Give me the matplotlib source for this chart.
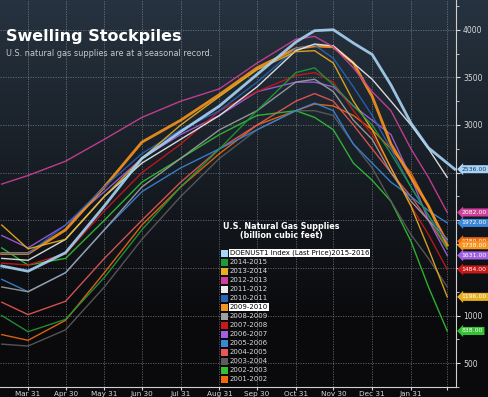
import numpy as np
import matplotlib
matplotlib.use('Agg')
import matplotlib.pyplot as plt
from matplotlib.patches import Rectangle

# days counted from Mar 31 of the season's first year
days = [-21, 0, 30, 61, 91, 122, 153, 183, 214, 229, 244, 260, 275, 290, 306, 320, 335]
days_current = [-21, 0, 30, 61, 91, 122, 153, 183, 214, 229, 244, 260, 275, 290, 306, 320, 341]

seasons = ['2015-2016', '2014-2015', '2013-2014', '2012-2013', '2011-2012', '2010-2011',
           '2009-2010', '2008-2009', '2007-2008', '2006-2007', '2005-2006', '2004-2005',
           '2003-2004', '2002-2003', '2001-2002']

s2015 = [1520, 1465, 1660, 2150, 2650, 2930, 3200, 3530, 3870, 3990, 4000, 3860, 3740, 3420, 3020, 2760, 2536]
s2014 = [1000, 830, 960, 1400, 1900, 2350, 2750, 3150, 3550, 3600, 3420, 3200, 3000, 2700, 2350, 2050, 1700]
s2013 = [1950, 1700, 1800, 2250, 2650, 3000, 3300, 3580, 3770, 3780, 3650, 3250, 2950, 2550, 2150, 1700, 1196]
s2012 = [2380, 2470, 2620, 2850, 3080, 3250, 3380, 3650, 3900, 3930, 3820, 3600, 3350, 3150, 2750, 2450, 2082]
s2011 = [1600, 1580, 1800, 2250, 2600, 2850, 3100, 3400, 3780, 3850, 3830, 3650, 3480, 3250, 3000, 2750, 2450]
s2010 = [1650, 1650, 1950, 2350, 2700, 2950, 3150, 3450, 3800, 3840, 3700, 3400, 3100, 2750, 2350, 2050, 1780]
s2009 = [1650, 1650, 1900, 2350, 2820, 3050, 3320, 3600, 3800, 3830, 3820, 3650, 3300, 2800, 2450, 2150, 1738]
s2008 = [1300, 1250, 1450, 1900, 2350, 2650, 2950, 3150, 3450, 3480, 3350, 3050, 2850, 2500, 2200, 2000, 1800]
s2007 = [1550, 1530, 1650, 2100, 2500, 2800, 3150, 3350, 3520, 3550, 3450, 3150, 2900, 2550, 2150, 1850, 1484]
s2006 = [1840, 1710, 1950, 2300, 2650, 2900, 3100, 3350, 3450, 3450, 3400, 3200, 3050, 2900, 2450, 2000, 1631]
s2005 = [1380, 1250, 1450, 1900, 2300, 2550, 2750, 2950, 3150, 3230, 3150, 2800, 2600, 2400, 2250, 2100, 1972]
s2004 = [1140, 1010, 1150, 1600, 2000, 2400, 2750, 3000, 3250, 3330, 3250, 3000, 2750, 2500, 2250, 2000, 1700]
s2003 = [700, 680, 850, 1300, 1800, 2250, 2650, 2950, 3150, 3150, 3100, 2800, 2550, 2200, 1850, 1600, 1300]
s2002 = [1710, 1530, 1600, 2000, 2400, 2650, 2900, 3100, 3150, 3080, 2950, 2600, 2420, 2200, 1780, 1300, 838]
s2001 = [800, 740, 950, 1450, 1950, 2350, 2700, 3000, 3150, 3220, 3200, 3100, 2950, 2750, 2500, 2150, 1780]

values = [s2015, s2014, s2013, s2012, s2011, s2010, s2009, s2008, s2007, s2006, s2005,
          s2004, s2003, s2002, s2001]

colors = ['#a9d4f5', '#1f9a3b', '#e8b020', '#d0409a', '#ececec', '#2a62b8', '#f7941d',
          '#a0a0a0', '#c81818', '#a060e0', '#3a86d8', '#e85858', '#5c5c5c', '#33c033', '#f06a10']

tick_days = [0, 30, 61, 91, 122, 153, 183, 214, 244, 275, 306, 335]
tick_labels = ['Mar 31', 'Apr 30', 'May 31', 'Jun 30', 'Jul 31', 'Aug 31', 'Sep 30',
               'Oct 31', 'Nov 30', 'Dec 31', 'Jan 31', '']
y_ticks = [500, 1000, 1500, 2000, 2500, 3000, 3500, 4000]
y_labels = ['500', '1000', '', '', '', '3000', '3500', '4000']

# seasons that carry a value tag at the right edge (drawn bottom to top)
tagged = ['2001-2002', '2005-2006', '2012-2013', '2009-2010', '2006-2007',
          '2007-2008', '2013-2014', '2002-2003', '2015-2016']

fig = plt.figure(figsize=(4.88, 3.97), dpi=100)

# background gradient
bg = fig.add_axes([0, 0, 1, 1], zorder=-10)
t = np.clip(np.linspace(0, 1, 256) / 0.8, 0, 1)[:, None]
top = np.array([0.15, 0.20, 0.25])
bot = np.array([0.04, 0.04, 0.05])
img = (top * (1 - t) + bot * t).reshape(256, 1, 3)
bg.imshow(img, aspect='auto', extent=[0, 1, 0, 1])
bg.axis('off')

ax = fig.add_axes([0, 10 / 397, 456 / 488, 387 / 397])
ax.set_facecolor('none')

for i in range(len(seasons) - 1, -1, -1):
    x = days_current if i == 0 else days
    lw = 2.0 if seasons[i] in ('2015-2016', '2009-2010') else 1.0
    ax.plot(x, values[i], color=colors[i], lw=lw, alpha=0.9, zorder=3 + (10 if i == 0 else 0))

ax.set_xlim(-22.4, 342)
ax.set_ylim(283, 4312)

ax.set_xticks(tick_days)
ax.set_xticklabels(tick_labels)
ax.yaxis.tick_right()
ax.set_yticks(y_ticks)
ax.set_yticklabels(y_labels)
ax.set_yticks(np.arange(250, 4300, 250), minor=True)
ax.tick_params(axis='y', colors='#d8d8d8', labelsize=5.5, length=3, direction='out', pad=2)
ax.tick_params(axis='y', which='minor', colors='#d8d8d8', length=2)
ax.tick_params(axis='x', colors='#d8d8d8', labelsize=5.2, length=2, pad=1)

ax.grid(True, color='#9aa0a6', lw=0.6, ls=(0, (1.5, 1.5)), alpha=0.6)
ax.set_axisbelow(True)
for side in ['top', 'left']:
    ax.spines[side].set_visible(False)
for side in ['right', 'bottom']:
    ax.spines[side].set_color('#d0d0d0')
    ax.spines[side].set_linewidth(0.8)

# value tags at the right edge
for name in tagged:
    i = seasons.index(name)
    v = values[i][-1]
    tc = '#1a3a66' if name == '2015-2016' else 'white'
    ax.annotate(f'{v:.2f}', xy=(1.0, v), xycoords=('axes fraction', 'data'),
                xytext=(4, 0), textcoords='offset points', ha='left', va='center',
                fontsize=4.4, color=tc, annotation_clip=False,
                bbox=dict(boxstyle='larrow,pad=0.25', fc=colors[i], ec='none'))

# title
fig.text(6 / 488, 1 - 37 / 397, 'Swelling Stockpiles', color='white', fontsize=11.5,
         fontweight='bold', va='center', ha='left')
fig.text(6 / 488, 1 - 53 / 397, 'U.S. natural gas supplies are at a seasonal record.',
         color='#c8c8c8', fontsize=5.9, va='center', ha='left')

# legend
fig.text(281 / 488, 1 - 231 / 397, 'U.S. Natural Gas Supplies\n(billion cubic feet)',
         color='white', fontsize=5.8, fontweight='bold', ha='center', va='center',
         linespacing=1.1)
for k, name in enumerate(seasons):
    yc = 253 + k * 9.0
    fig.patches.append(Rectangle((221 / 488, 1 - (yc + 3.5) / 397), 7 / 488, 7 / 397,
                                 transform=fig.transFigure, fc=colors[k], ec='none'))
    label = 'DOENUST1 Index (Last Price)' + name if k == 0 else name
    if k in (0, 6):
        fig.text(230 / 488, 1 - yc / 397, label, color='black', fontsize=5.0, va='center',
                 ha='left', bbox=dict(boxstyle='square,pad=0.1', fc='white', ec='none'))
    else:
        fig.text(230 / 488, 1 - yc / 397, label, color='#d8d8d8', fontsize=5.0,
                 va='center', ha='left')

plt.savefig('out.png', dpi=100, facecolor='black')
